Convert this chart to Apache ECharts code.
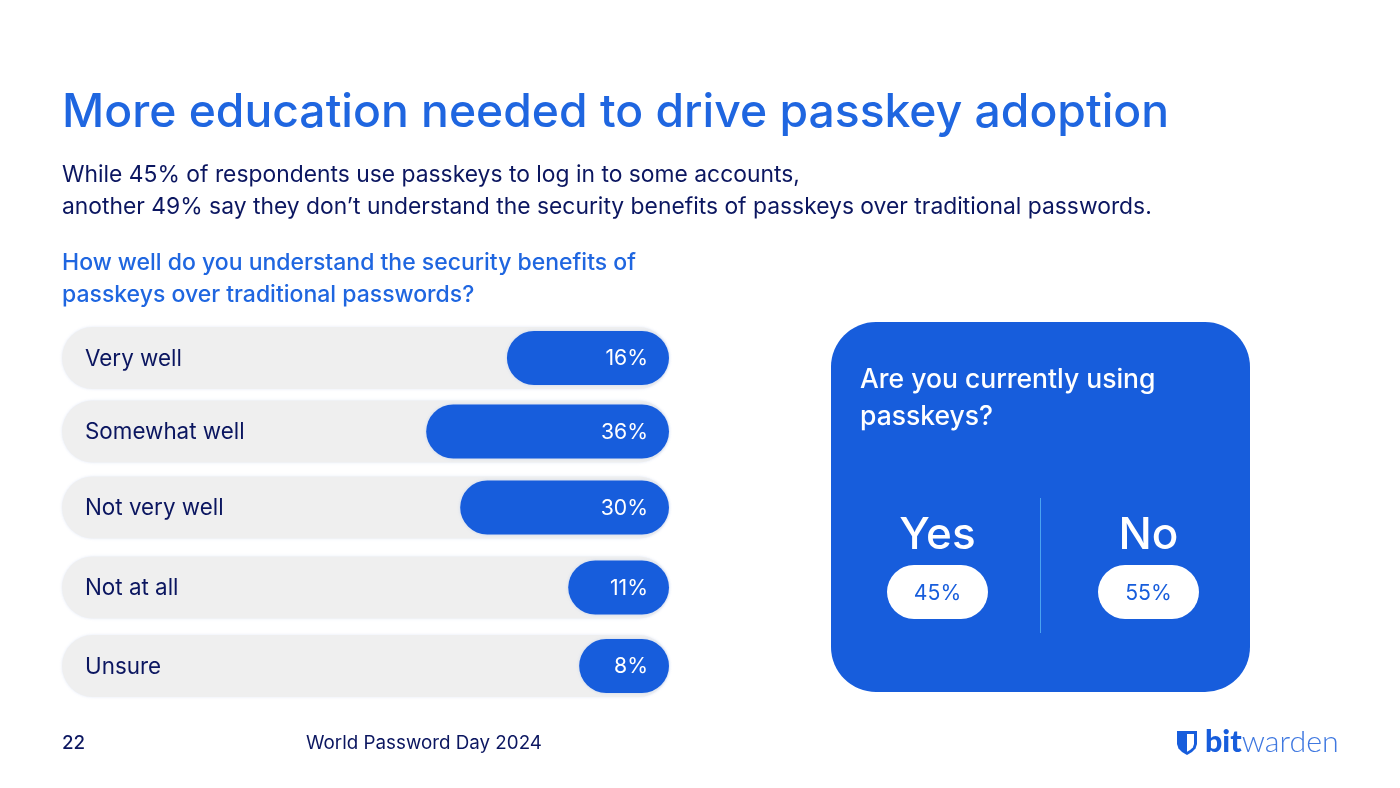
<!DOCTYPE html>
<html><head><meta charset="utf-8">
<style>html,body{margin:0;padding:0;background:#fff}#c{width:1400px;height:788px}</style>
<script src="https://cdn.jsdelivr.net/npm/echarts@6/dist/echarts.min.js"></script>
</head><body><div id="c"></div>
<script>
const categories = ['Very well','Somewhat well','Not very well','Not at all','Unsure'];
const percentLabels = [16,36,30,11,8];
// Pill length as a share of the grey track (the pills are not proportional to the printed percentages)
const pillShare = [26.7,40.0,34.4,16.6,14.8];
const trackShare = [100,100,100,100,100];
const usingLabels = ['Yes','No'];
const usingValues = [45,55];
const titleText = 'More education needed to drive passkey adoption';
const subLines = ['While 45% of respondents use passkeys to log in to some accounts,','another 49% say they don’t understand the security benefits of passkeys over traditional passwords.'];
const questionLines = ['How well do you understand the security benefits of','passkeys over traditional passwords?'];
const cardLines = ['Are you currently using','passkeys?'];

const FONT = 'Inter';
const BLUE = '#175ddc', NAVY = '#0b1660', LINK = '#1f66e0';
const rowCenters = [358,431.5,507.5,587.5,666];
const grid=[],xAxis=[],yAxis=[],series=[];
categories.forEach((c,i)=>{
  grid.push({left:62,width:607,top:rowCenters[i]-31,height:62});
  xAxis.push({type:'value',gridIndex:i,min:0,max:100,inverse:true,show:false});
  yAxis.push({type:'category',gridIndex:i,data:[c],show:false});
  yAxis.push({type:'category',gridIndex:i,data:[c],show:false});
  series.push({type:'bar',xAxisIndex:i,yAxisIndex:2*i,barWidth:62,data:[trackShare[i]],silent:true,z:1,
    itemStyle:{color:'#efefef',borderRadius:31,shadowBlur:3,shadowColor:'rgba(190,205,235,.45)'},
    label:{show:true,position:'insideLeft',distance:23,offset:[0,1],formatter:c,color:NAVY,fontFamily:FONT,fontSize:22.4,fontWeight:400}});
  series.push({type:'bar',xAxisIndex:i,yAxisIndex:2*i+1,barWidth:54,data:[pillShare[i]],silent:true,z:2,
    itemStyle:{color:BLUE,borderRadius:27,shadowBlur:3,shadowColor:'rgba(170,195,240,.6)'},
    label:{show:true,position:'insideRight',distance:21,offset:[0,1],formatter:percentLabels[i]+'%',color:'#fff',fontFamily:FONT,fontSize:21.2,fontWeight:400}});
});
function txt(x,y,text,size,fill,extra,weight){
  return {type:'text',x,y,z:10,style:Object.assign({text,fill,font:`${weight||400} ${size}px ${FONT}`,verticalAlign:'middle',align:'left'},extra||{})};
}
const g=[];
g.push(txt(62,113,titleText,46.25,LINK,null,500));
subLines.forEach((t,i)=>g.push(txt(62,175+32*i,t,22.85,NAVY)));
questionLines.forEach((t,i)=>g.push(txt(62,263+32*i,t,23,LINK,null,500)));
g.push({type:'rect',z:3,shape:{x:831,y:322,width:419,height:370,r:45},style:{fill:BLUE}});
cardLines.forEach((t,i)=>g.push(txt(860,380+37*i,t,26.5,'#fff',null,500)));
g.push({type:'line',z:4,shape:{x1:1040.5,y1:498,x2:1040.5,y2:633},style:{stroke:'#4aa3f0',lineWidth:1}});
const cx=[937.5,1148.5];
usingLabels.forEach((t,i)=>{
  g.push(txt(cx[i],536,t,44,'#fff',{align:'center'},500));
  g.push({type:'rect',z:4,shape:{x:cx[i]-50.5,y:565,width:101,height:54,r:27},style:{fill:'#fff'}});
  g.push(txt(cx[i],594,usingValues[i]+'%',21.2,BLUE,{align:'center'}));
});
g.push(txt(62,743,'22',18.8,NAVY,null,500));
g.push(txt(306,743,'World Password Day 2024',18.8,NAVY));
// logo
const shieldOuter=[[1177,731],[1197,731],[1197,744],[1195.5,748.5],[1192,752],[1187,755],[1182,752],[1178.5,748.5],[1177,744]];
const shieldInner=[[1187,734],[1194,734],[1194,744],[1192.8,747.5],[1190,750],[1187,751.7]];
g.push({type:'polygon',z:10,shape:{points:shieldOuter},style:{fill:BLUE}});
g.push({type:'polygon',z:11,shape:{points:shieldInner},style:{fill:'#fff'}});
g.push({type:'text',z:10,x:1205,y:742,style:{text:'{a|bit}{b|warden}',verticalAlign:'middle',rich:{a:{fontFamily:'Lato',fontWeight:900,fontSize:30.4,fill:BLUE},b:{fontFamily:'Lato',fontWeight:300,fontSize:30.4,fill:'#3f78e0'}}}});

const chart=echarts.init(document.getElementById('c'),null,{renderer:'canvas'});
chart.setOption({animation:false,backgroundColor:'#fff',grid,xAxis,yAxis,series,graphic:{elements:g}});
</script></body></html>
